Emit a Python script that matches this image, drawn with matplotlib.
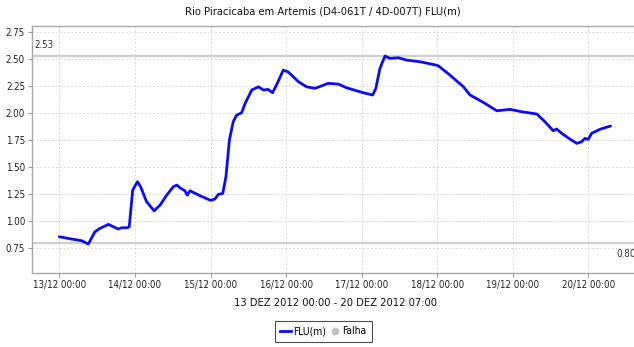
import matplotlib
matplotlib.use("Agg")
import matplotlib.pyplot as plt
from matplotlib.lines import Line2D

plt.rcParams["font.family"] = ["DejaVu Sans"]
plt.rcParams["font.stretch"] = "condensed"

# Hours elapsed since 13/12/2012 00:00 and river level FLU (m)
hours = [0.0, 3.4, 7.1, 9.2, 11.3, 12.9, 15.6, 18.7, 19.8, 21.6, 22.2, 23.3,
         24.8, 25.8, 27.7, 30.1, 32.0, 34.1, 36.2, 37.3, 38.5, 39.9, 40.6,
         41.5, 44.7, 47.8, 48.4, 49.4, 50.5, 51.9, 52.9, 54.0, 55.2, 56.3,
         57.9, 59.0, 61.1, 63.2, 64.8, 66.3, 67.7, 69.2, 71.1, 72.7, 75.9,
         78.5, 81.2, 85.4, 88.6, 91.2, 96.5, 99.5, 100.5, 101.8, 103.4,
         105.0, 107.6, 110.3, 114.5, 118.7, 120.3, 124.0, 128.3, 130.4,
         134.6, 138.9, 143.1, 146.8, 151.6, 154.2, 156.8, 157.9, 159.5,
         162.1, 164.3, 165.8, 166.9, 167.9, 169.0, 171.6, 175.0]
level = [0.855, 0.836, 0.818, 0.787, 0.900, 0.932, 0.969, 0.926, 0.938,
         0.938, 0.947, 1.287, 1.364, 1.318, 1.179, 1.095, 1.148, 1.240,
         1.318, 1.333, 1.303, 1.280, 1.240, 1.280, 1.234, 1.194, 1.194,
         1.204, 1.247, 1.256, 1.410, 1.750, 1.919, 1.980, 2.003, 2.090,
         2.213, 2.243, 2.213, 2.219, 2.188, 2.275, 2.398, 2.380, 2.290,
         2.243, 2.229, 2.275, 2.268, 2.234, 2.188, 2.167, 2.229, 2.414,
         2.528, 2.506, 2.512, 2.490, 2.475, 2.450, 2.438, 2.352, 2.243,
         2.167, 2.099, 2.021, 2.034, 2.012, 1.991, 1.919, 1.836, 1.852,
         1.812, 1.759, 1.719, 1.734, 1.766, 1.756, 1.812, 1.849, 1.880]

tick_hours = [0, 24, 48, 72, 96, 120, 144, 168]
tick_labels = ["13/12 00:00", "14/12 00:00", "15/12 00:00", "16/12 00:00",
               "17/12 00:00", "18/12 00:00", "19/12 00:00", "20/12 00:00"]
y_ticks = [0.75, 1.00, 1.25, 1.50, 1.75, 2.00, 2.25, 2.50, 2.75]

upper_mark = 2.53
lower_mark = 0.80

W, H = 634, 347
fig = plt.figure(figsize=(W / 100, H / 100), dpi=100)
fig.patch.set_facecolor("white")

left, right, top, bottom = 32, 637, 26, 273
ax = fig.add_axes([left / W, 1 - bottom / H, (right - left) / W, (bottom - top) / H])
ax.set_facecolor("white")

ax.set_xlim(-8.67, 183.4)
ax.set_ylim(0.519, 2.806)

ax.grid(True, color="#d8d8d8", linestyle=(0, (2, 2)), linewidth=0.7)
ax.set_axisbelow(True)

# Reference levels
grey = "#d0d0d0"
ax.axhline(upper_mark, color=grey, linewidth=1.7, zorder=1.5)
ax.axhline(lower_mark, color=grey, linewidth=1.7, zorder=1.5)
ax.annotate(f"{upper_mark:.2f}", xy=(0, upper_mark), xycoords=("axes fraction", "data"),
            xytext=(2, 6), textcoords="offset pixels", ha="left", va="bottom",
            fontsize=7, color="#333333")
ax.annotate(f"{lower_mark:.2f}", xy=(hours[-1], lower_mark),
            xytext=(6, -6), textcoords="offset pixels", ha="left", va="top",
            fontsize=7, color="#333333", annotation_clip=False)

ax.plot(hours, level, color="#0a0aff", linewidth=2.0, solid_joinstyle="round",
        solid_capstyle="round", zorder=3)

ax.set_xticks(tick_hours)
ax.set_xticklabels(tick_labels)
ax.set_yticks(y_ticks)
ax.set_yticklabels([f"{v:.2f}" for v in y_ticks])
ax.tick_params(axis="both", labelsize=7, labelcolor="#222222", length=3, width=0.8,
               direction="out", pad=2, color="#999999")

for side in ["left", "bottom", "top"]:
    ax.spines[side].set_color("#a8a8a8")
    ax.spines[side].set_linewidth(1.0)
ax.spines["right"].set_visible(False)

fig.text(323 / W, 1 - 12 / H, "Rio Piracicaba em Artemis (D4-061T / 4D-007T) FLU(m)",
         ha="center", va="center", fontsize=8, color="#111111")
fig.text(335 / W, 1 - 302.5 / H, "13 DEZ 2012 00:00 - 20 DEZ 2012 07:00",
         ha="center", va="center", fontsize=8, color="#111111")

handles = [Line2D([], [], color="#0a0aff", linewidth=2.0),
           Line2D([], [], color="#c0c0c0", marker="o", linestyle="none", markersize=4.5)]
leg = fig.legend(handles, ["FLU(m)", "Falha"], loc="center",
                 bbox_to_anchor=(323.5 / W, 1 - 331.5 / H), ncol=2,
                 fontsize=7.5, frameon=True, fancybox=False, handlelength=1.0,
                 handletextpad=0.25, columnspacing=0.3, borderpad=0.55,
                 borderaxespad=0)
leg.get_frame().set_edgecolor("#222222")
leg.get_frame().set_linewidth(0.8)

fig.savefig("out.png", dpi=100)
